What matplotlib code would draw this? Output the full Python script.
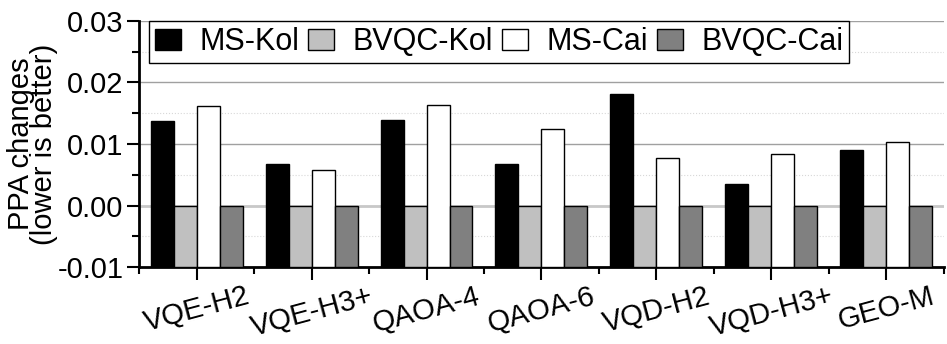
import matplotlib as mpl
import matplotlib.pyplot as plt
mpl.use('Agg')
import numpy as np

plt.rcParams['font.family'] = ['Liberation Sans', 'DejaVu Sans']
plt.rcParams['axes.unicode_minus'] = False

# data
circuits = ['VQE-H2', 'VQE-H3+', 'QAOA-4', 'QAOA-6', 'VQD-H2', 'VQD-H3+', 'GEO-M']
ms_kol = [0.0138, 0.0068, 0.0139, 0.0068, 0.0182, 0.0035, 0.0091]
bvqc_kol = [0.0, 0.0, 0.0, 0.0, 0.0, 0.0, 0.0]
ms_cai = [0.0161, 0.00575, 0.0164, 0.0124, 0.0078, 0.0084, 0.0104]
bvqc_cai = [0.0, 0.0, 0.0, 0.0, 0.0, 0.0, 0.0]

series = [('MS-Kol', ms_kol, 'black'),
          ('BVQC-Kol', bvqc_kol, '#c0c0c0'),
          ('MS-Cai', ms_cai, 'white'),
          ('BVQC-Cai', bvqc_cai, '#808080')]

ymin, ymax = -0.01, 0.03

fig = plt.figure(figsize=(9.47, 3.44), dpi=100)
ax = fig.add_axes([0.1468, 0.2238, 0.8500, 0.7152])

x = np.arange(len(circuits))
w = 0.2
for i, (name, vals, col) in enumerate(series):
    # bars grow from the bottom of the axis, Origin style
    h = np.array(vals) - ymin
    ax.bar(x + (i - 1.5) * w, h, w, bottom=ymin, color=col,
           edgecolor='black', linewidth=1.0, label=name, zorder=3)

ax.set_xlim(-0.5, len(circuits) - 0.5)
ax.set_ylim(ymin, ymax)

ax.set_yticks([-0.01, 0.0, 0.01, 0.02, 0.03])
ax.set_yticklabels(['%.2f' % v for v in [-0.01, 0.0, 0.01, 0.02, 0.03]])
ax.set_yticks([-0.005, 0.005, 0.015, 0.025], minor=True)
ax.set_xticks(x)
ax.set_xticklabels(circuits, rotation=15, ha='center')
ax.set_xticks(np.arange(-0.5, len(circuits)), minor=True)

ax.tick_params(axis='y', which='major', labelsize=21, length=9, width=1.5, pad=2)
ax.tick_params(axis='x', which='major', labelsize=21, length=9, width=1.5, pad=2)
ax.tick_params(axis='both', which='minor', length=5, width=1.5)

# grid lines
for v in [0.01, 0.02, 0.03]:
    ax.axhline(v, color='#a0a0a0', linewidth=1.0, zorder=1)
ax.axhline(0.0, color='#c8c8c8', linewidth=2.0, zorder=1)
for v in [-0.005, 0.005, 0.015, 0.025]:
    ax.axhline(v, color='#d8d8d8', linewidth=0.8, linestyle=':', zorder=1)

ax.spines['top'].set_visible(False)
ax.spines['right'].set_visible(False)
ax.spines['left'].set_linewidth(2)
ax.spines['bottom'].set_linewidth(2)

ax.set_ylabel('PPA changes\n(lower is better)', fontsize=21, linespacing=0.75, labelpad=0)

leg = ax.legend(loc='upper left', bbox_to_anchor=(0.012, 1.0), ncol=4, fontsize=22,
                frameon=True, fancybox=False, edgecolor='black', framealpha=1,
                handlelength=0.85, handleheight=0.72, handletextpad=0.6,
                columnspacing=0.3, borderpad=0.2, borderaxespad=0.0)
leg.get_frame().set_linewidth(1.0)
leg.set_zorder(5)

plt.savefig('out.png', dpi=100)
